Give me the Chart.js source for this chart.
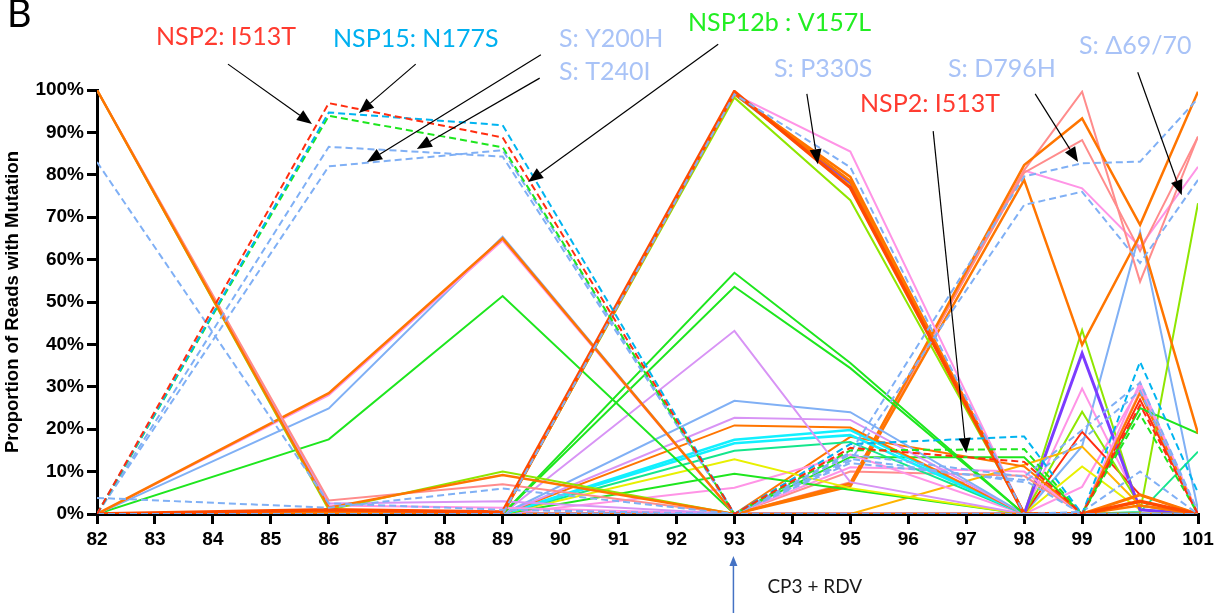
<!DOCTYPE html>
<html>
<head>
<meta charset="utf-8">
<script src="https://cdn.jsdelivr.net/npm/chart.js@4.4.1/dist/chart.umd.min.js"></script>
<style>
  html, body { margin: 0; padding: 0; background: #fff; }
  canvas { display: block; }
</style>
</head>
<body>
<canvas id="grafico" width="1223" height="613"></canvas>
<script>
// dias de amostragem (eixo x) e marcas do eixo y
const days = [82, 86, 89, 93, 95, 98, 99, 100, 101];
const yTicks = [0, 10, 20, 30, 40, 50, 60, 70, 80, 90, 100];

// séries tracejadas (mutações anotadas)
const nsp2I513T   = [0, 96.9, 88.8, 0, 15.6, 12.3, 0, 25.7, 0];
const nsp15N177S  = [0, 94.7, 91.7, 0, 16.5, 18.3, 0, 35.9, 5];
const nsp12bV157L = [0, 93.9, 86.5, 0, 15, 15.3, 0, 23.5, 0];
const sT240I      = [0, 86.6, 84.3, 0, 14, 8.8, 19.8, 31, 0.5];
const sY200H      = [0, 82, 85.8, 0, 13, 7.5, 17.5, 29, 0];
const sDash82     = [83, 2.5, 1, 0, 0, 0, 0.5, 10, 0];
const sDashLow    = [3.8, 1.5, 6, 0, 12, 8, 0, 0, 0];
const sP330S      = [0, 0, 0, 99, 81.8, 0, 0, 0, 0];
const sD796H      = [0, 0, 0, 0, 14.5, 79.6, 82.7, 83.1, 98];
const sDel6970    = [0, 0, 0, 0, 12.5, 72.9, 76, 59.2, 78.8];

// séries contínuas
const orangeA = [100, 1.5, 9.2, 0, 0, 0, 0, 0, 0];
const limeA   = [100, 1, 10, 0, 0, 0, 0, 0, 0];
const salmonA = [100, 3.2, 7, 0, 0, 0, 0, 0, 0];
const violetA = [100, 2.5, 3, 0, 0, 0, 0, 0, 0];
const pinkA   = [100, 2, 1.5, 0, 0, 0, 0, 0, 0];

const orangeB = [0, 28.5, 65, 0, 0, 0, 0, 0, 0];
const pinkB   = [0, 28, 64.5, 0, 0, 0, 0, 0, 0];
const blueB   = [0, 24.9, 65.4, 0, 0, 0, 0, 0, 0];
const greenB  = [0, 17.6, 51.4, 0, 0, 0, 0, 0, 0];

const redPeak     = [0, 1, 0.5, 99.6, 77, 0, 0, 3, 0];
const orangePeak  = [0, 0.5, 0, 99.3, 78.5, 0, 0, 4.5, 0];
const orangePeak2 = [0, 0.3, 0, 99, 79.5, 0, 0, 2, 0];
const limePeak    = [0, 0, 0, 98.2, 74, 0, 0, 0, 0];
const pinkPeak    = [0, 0, 0, 99, 85.5, 0, 0, 0, 0];
const purplePeak  = [0, 0, 0, 99, 78, 0, 0, 0, 0];
const yellowPeak  = [0, 0, 0, 99, 77.8, 0, 0, 0, 0];

const greenC1 = [0, 0, 0, 56.9, 35.6, 0, 0, 0, 0];
const greenC2 = [0, 0, 0, 53.6, 34.4, 0, 0, 0, 0];
const violetC = [0, 0, 0, 43.2, 7.5, 0, 0, 0, 0];
const blueC   = [0, 0, 0, 26.7, 24, 0, 0, 0, 0];
const violetD = [0, 0, 0, 22.7, 22.2, 0, 0, 0, 0];
const orangeD = [0, 0, 0, 20.9, 20.4, 0, 0, 0, 0];
const cyanD1  = [0, 0, 0, 17.5, 19.8, 0, 0, 0, 0];
const cyanD2  = [0, 0, 0, 16.7, 18.6, 0, 0, 0, 0];
const mintD   = [0, 0, 0, 14.9, 17, 0, 0, 0, 0];
const yellowD = [0, 0, 0, 12.9, 6.1, 0, 0, 0, 0];
const greenD  = [0, 0, 0, 9.5, 5.7, 0, 0, 0, 0];
const pinkD   = [0, 0, 0, 6.2, 14, 0, 0, 0, 0];

const orangeE1 = [0, 0, 0, 0, 7.2, 82.3, 93.3, 68.2, 99.6];
const orangeE2 = [0, 0, 0, 0, 6.5, 78.8, 39.9, 65.8, 19];
const salmonE1 = [0, 0, 0, 0, 7, 81.1, 99.6, 54.8, 89];
const salmonE2 = [0, 0, 0, 0, 7.5, 80.5, 88.2, 62, 89];
const pinkE    = [0, 0, 0, 0, 7, 81, 76.8, 63, 81.9];

const greenF  = [0, 0, 0, 0, 13.4, 13.4, 0, 25, 19];
const orangeF = [0, 0, 0, 0, 18.2, 11.2, 0, 28.5, 0];
const goldF   = [0, 0, 0, 0, 0, 11.6, 15.9, 2, 0];
const pinkF   = [0, 0, 0, 0, 11, 10, 0, 31, 0];
const salmonF = [0, 0, 0, 0, 10, 9, 0, 29, 0];

const purpleG = [0, 0, 0, 0, 0, 0, 37.9, 1, 0];
const limeG   = [0, 0, 0, 0, 0, 0, 43.4, 0.5, 73.3];
const limeG2  = [0, 0, 0, 0, 0, 0, 24.1, 2, 0];
const redG    = [0, 0, 0, 0, 0, 0, 19.4, 4.5, 0];
const pinkG   = [0, 0, 0, 0, 0, 0, 29.6, 2, 0];
const yellowG = [0, 0, 0, 0, 0, 0, 11.2, 1, 0];
const pinkG2  = [0, 0, 0, 0, 0, 0, 6.4, 30, 0];
const redG2   = [0, 0, 0, 0, 0, 0, 0, 27, 0];
const tealG   = [0, 0, 0, 0, 0, 0, 0, 0.5, 14.7];
const blueG   = [0, 0, 0, 0, 0, 0, 16, 66.6, 1];

// cores
const cor = {
  orange: '#ff7500', redOrange: '#ff4a00', red: '#ff2d10', green: '#1ee61e',
  lime: '#8fe600', mint: '#14e68c', cyan: '#12f0ff', sky: '#00b4f0',
  lightBlue: '#80b0f5', pink: '#ff94e6', violet: '#d894f5', salmon: '#ff8c8c',
  yellow: '#e8f000', gold: '#ffb400', purple: '#7b3cff'
};

// [dados, cor, espessura, tracejado]
const series = [
  [nsp2I513T, cor.red, 2, true],
  [nsp15N177S, cor.sky, 2, true],
  [nsp12bV157L, cor.green, 2, true],
  [sT240I, cor.lightBlue, 2, true],
  [sY200H, cor.lightBlue, 2, true],
  [sDash82, cor.lightBlue, 2, true],
  [sDashLow, cor.lightBlue, 2, true],
  [sP330S, cor.lightBlue, 2, true],
  [sD796H, cor.lightBlue, 2, true],
  [sDel6970, cor.lightBlue, 2, true],
  [redPeak, cor.redOrange, 3.5, false],
  [orangePeak, cor.orange, 3, false],
  [orangePeak2, cor.orange, 2.5, false],
  [orangeA, cor.orange, 2.5, false],
  [limeA, cor.lime, 2, false],
  [salmonA, cor.salmon, 2, false],
  [violetA, cor.violet, 2, false],
  [pinkA, cor.pink, 2, false],
  [orangeB, cor.orange, 2.5, false],
  [pinkB, cor.pink, 2, false],
  [blueB, cor.lightBlue, 2, false],
  [greenB, cor.green, 2, false],
  [limePeak, cor.lime, 2, false],
  [pinkPeak, cor.pink, 2, false],
  [purplePeak, cor.purple, 2, false],
  [yellowPeak, cor.yellow, 2, false],
  [greenC1, cor.green, 2, false],
  [greenC2, cor.green, 2, false],
  [violetC, cor.violet, 2, false],
  [blueC, cor.lightBlue, 2, false],
  [violetD, cor.violet, 2, false],
  [orangeD, cor.orange, 2, false],
  [cyanD1, cor.cyan, 2.5, false],
  [cyanD2, cor.cyan, 2.5, false],
  [mintD, cor.mint, 2, false],
  [yellowD, cor.yellow, 2, false],
  [greenD, cor.green, 2, false],
  [pinkD, cor.pink, 2, false],
  [orangeE1, cor.orange, 2.5, false],
  [orangeE2, cor.orange, 2.5, false],
  [salmonE1, cor.salmon, 2, false],
  [salmonE2, cor.salmon, 2, false],
  [pinkE, cor.pink, 2, false],
  [greenF, cor.green, 2, false],
  [orangeF, cor.orange, 2, false],
  [goldF, cor.gold, 2, false],
  [pinkF, cor.pink, 2, false],
  [salmonF, cor.salmon, 2, false],
  [purpleG, cor.purple, 3, false],
  [limeG, cor.lime, 2, false],
  [limeG2, cor.lime, 2, false],
  [redG, cor.red, 2, false],
  [pinkG, cor.pink, 2, false],
  [yellowG, cor.yellow, 2, false],
  [pinkG2, cor.pink, 2, false],
  [redG2, cor.red, 2, false],
  [tealG, cor.mint, 2, false],
  [blueG, cor.lightBlue, 2, false]
];

// textos das anotações (posição em pixels, fora da área do gráfico)
const labelFont = '25px Lato';
const labels = [
  { text: 'B', x: 7, y: 27, color: '#000', font: '38px Lato' },
  { text: 'NSP2: I513T', x: 156, y: 45, color: '#ff3b30' },
  { text: 'NSP15: N177S', x: 333, y: 47, color: '#00b0f0' },
  { text: 'S: Y200H', x: 559, y: 47, color: '#a9c3f7' },
  { text: 'S: T240I', x: 559, y: 80, color: '#a9c3f7' },
  { text: 'NSP12b : V157L', x: 688, y: 31, color: '#22ee22' },
  { text: 'S: P330S', x: 774, y: 77, color: '#a9c3f7' },
  { text: 'S: D796H', x: 948, y: 77, color: '#a9c3f7' },
  { text: 'S: \u039469/70', x: 1079, y: 54, color: '#a9c3f7' },
  { text: 'NSP2: I513T', x: 860, y: 112, color: '#ff3b30' }
];

// setas: início e ponta em coordenadas do gráfico (dia, %)
const arrows = [
  [[84.26, 106.1], [85.71, 92.0]],
  [[87.50, 106.1], [86.52, 94.6]],
  [[89.66, 108.3], [86.66, 83.0]],
  [[89.64, 102.8], [87.52, 86.1]],
  [[92.72, 110.8], [89.44, 78.3]],
  [[94.25, 99.1], [94.44, 82.5]],
  [[96.43, 90.3], [97.00, 14.4]],
  [[98.19, 99.1], [98.93, 83.0]],
  [[99.96, 104.2], [100.72, 75.2]]
];
const treatmentDay = 93;

function drawArrow(ctx, x1, y1, x2, y2, color, head, width) {
  const ang = Math.atan2(y2 - y1, x2 - x1);
  const bx = x2 - head * Math.cos(ang), by = y2 - head * Math.sin(ang);
  ctx.strokeStyle = color;
  ctx.fillStyle = color;
  ctx.lineWidth = width;
  ctx.beginPath();
  ctx.moveTo(x1, y1);
  ctx.lineTo(bx, by);
  ctx.stroke();
  const w = head * 0.4;
  ctx.beginPath();
  ctx.moveTo(x2, y2);
  ctx.lineTo(bx + w * Math.sin(ang), by - w * Math.cos(ang));
  ctx.lineTo(bx - w * Math.sin(ang), by + w * Math.cos(ang));
  ctx.closePath();
  ctx.fill();
}

const anotacoes = {
  id: 'anotacoes',
  afterDraw(chart) {
    const { ctx, scales: { x, y } } = chart;
    ctx.save();
    ctx.textBaseline = 'alphabetic';
    ctx.textAlign = 'left';
    labels.forEach(l => {
      ctx.font = l.font || labelFont;
      ctx.fillStyle = l.color;
      ctx.fillText(l.text, l.x, l.y);
    });
    arrows.forEach(a => {
      drawArrow(ctx,
        x.getPixelForValue(a[0][0]), y.getPixelForValue(a[0][1]),
        x.getPixelForValue(a[1][0]), y.getPixelForValue(a[1][1]),
        '#000', 15, 1.2);
    });
    // seta do tratamento CP3 + RDV
    const tx = x.getPixelForValue(treatmentDay) - 1;
    drawArrow(ctx, tx, 613, tx, 556, '#4472c4', 10, 1.5);
    ctx.font = '19px Lato';
    ctx.fillStyle = '#1a1a1a';
    ctx.fillText('CP3 + RDV', tx + 34, 593);
    ctx.restore();
  }
};

const ctx = document.getElementById('grafico').getContext('2d');
const grafico = new Chart(ctx, {
  type: 'line',
  data: {
    datasets: series.map(s => ({
      data: s[0].map((v, i) => ({ x: days[i], y: v })),
      borderColor: s[1],
      borderWidth: s[2],
      borderDash: s[3] ? [7, 4] : [],
      pointRadius: 0,
      fill: false,
      tension: 0
    }))
  },
  options: {
    responsive: false,
    devicePixelRatio: 1,
    animation: false,
    layout: { padding: { left: 0, right: 25, top: 90, bottom: 0 } },
    plugins: { legend: { display: false }, tooltip: { enabled: false } },
    scales: {
      x: {
        type: 'linear',
        min: 82,
        max: 101,
        afterFit: s => { s.height = 99; },
        ticks: {
          stepSize: 1,
          autoSkip: false,
          maxRotation: 0,
          padding: 4,
          color: '#000',
          font: { family: 'Liberation Sans', size: 19, weight: 'bold' }
        },
        grid: { drawOnChartArea: false, drawTicks: true, tickLength: 10, color: '#000', lineWidth: 3 },
        border: { color: '#000', width: 3 }
      },
      y: {
        min: 0,
        max: 100,
        afterFit: s => { s.width = 97; },
        afterBuildTicks: s => { s.ticks = yTicks.map(v => ({ value: v })); },
        ticks: {
          padding: 3,
          color: '#000',
          callback: v => v + '%',
          font: { family: 'Liberation Sans', size: 19, weight: 'bold' }
        },
        grid: { drawOnChartArea: false, drawTicks: true, tickLength: 10, color: '#000', lineWidth: 3 },
        border: { color: '#000', width: 3 },
        title: {
          display: true,
          text: 'Proportion of Reads with Mutation',
          color: '#000',
          padding: { top: 1.5, bottom: 0 },
          font: { family: 'Liberation Sans', size: 18.5, weight: 'bold' }
        }
      }
    }
  },
  plugins: [anotacoes]
});
</script>
</body>
</html>
